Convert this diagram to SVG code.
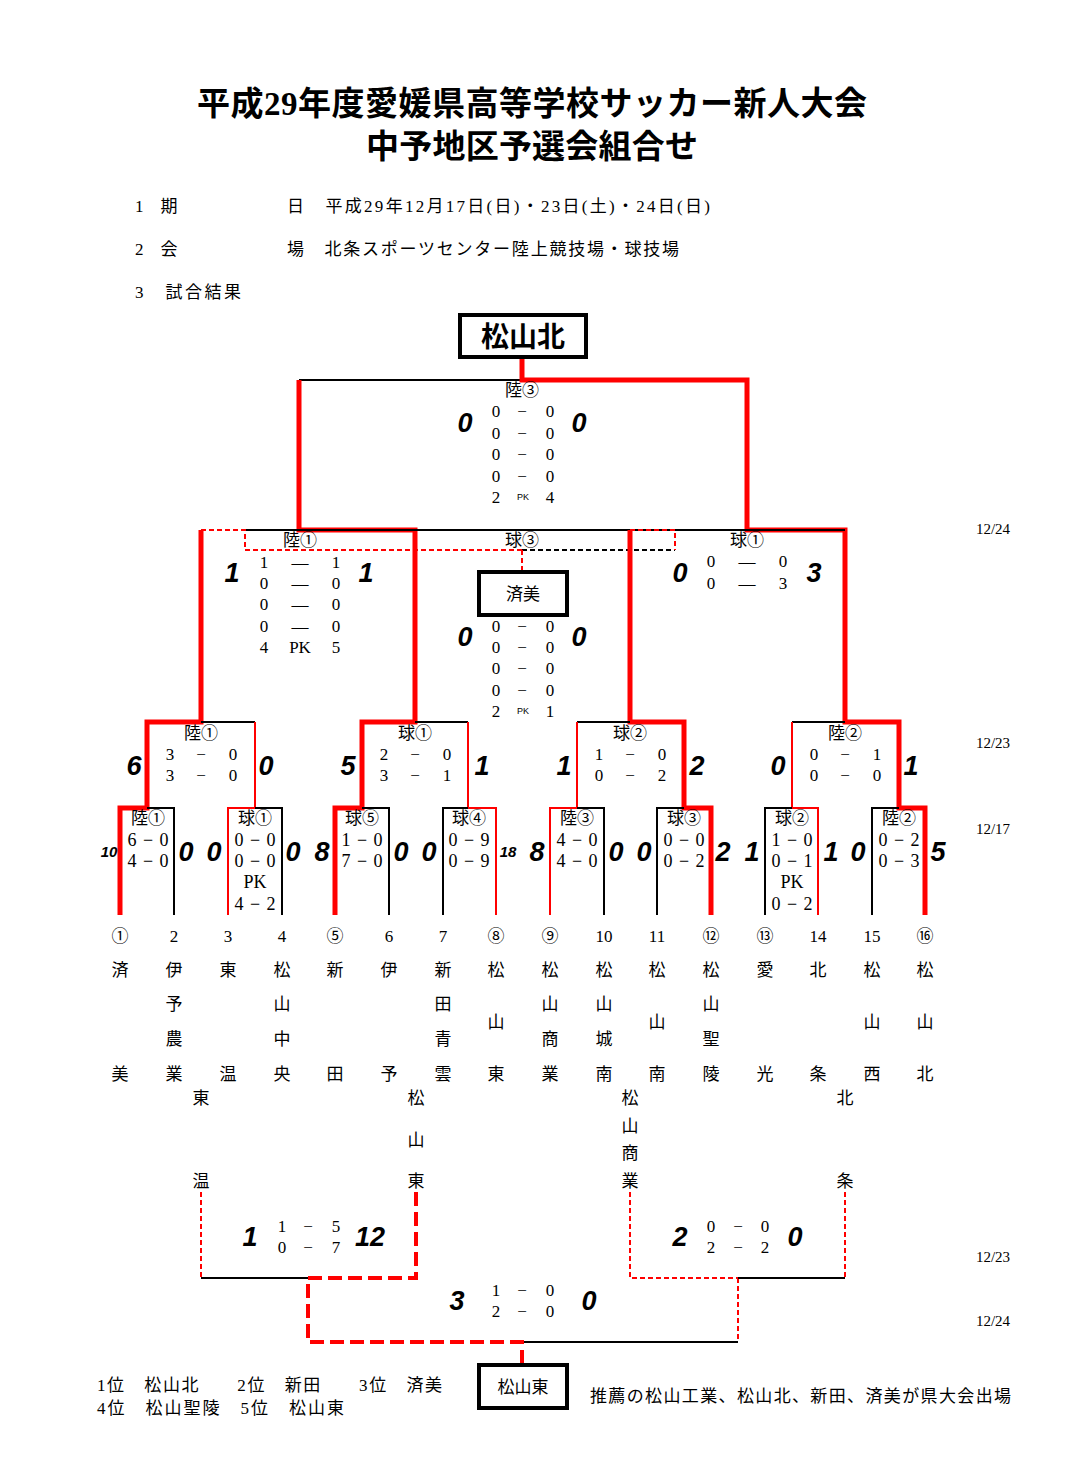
<svg xmlns="http://www.w3.org/2000/svg" width="1088" height="1481" viewBox="0 0 1088 1481">
<style>
text{font-family:"Liberation Serif","Noto Sans CJK JP",serif;fill:#000}
.t{font-size:17px;text-anchor:middle}
.s{font-size:17px}
.w{font-size:18px;text-anchor:middle;word-spacing:2px}
.b{font-family:"Liberation Sans","Noto Sans CJK JP",sans-serif;font-weight:bold;font-style:italic;font-size:27px;text-anchor:middle}
.sm{font-family:"Liberation Sans",sans-serif;font-weight:bold;font-style:italic;font-size:15px;text-anchor:middle}
.pk{font-size:9px;text-anchor:middle;font-family:"Liberation Sans",sans-serif;fill:#000}
.k{stroke:#000;stroke-width:2;fill:none}
.r{stroke:#f00;stroke-width:2;fill:none}
.R{stroke:#f00;stroke-width:5;fill:none}
.rd{stroke:#f00;stroke-width:2;fill:none;stroke-dasharray:5,3}
.RD{stroke:#f00;stroke-width:4;fill:none;stroke-dasharray:14,6}
.kd{stroke:#000;stroke-width:2;fill:none;stroke-dasharray:5,3}
.box{fill:#fff;stroke:#000;stroke-width:4}
.d{font-size:15px;font-family:"Liberation Serif",serif}
</style>
<rect width="1088" height="1481" fill="#fff"/>
<g id="title">
<text x="532" y="115" style="font-size:33px;font-weight:bold;text-anchor:middle" textLength="670">平成29年度愛媛県高等学校サッカー新人大会</text>
<text x="532" y="158" style="font-size:33px;font-weight:bold;text-anchor:middle" textLength="332">中予地区予選会組合せ</text>
<text x="135" y="212" class="s">1　期</text><text x="287" y="212" class="s" textLength="423">日　平成29年12月17日(日)・23日(土)・24日(日)</text>
<text x="135" y="255" class="s">2　会</text><text x="287" y="255" class="s" textLength="392">場　北条スポーツセンター陸上競技場・球技場</text>
<text x="135" y="298" class="s" textLength="106">3　試合結果</text>
</g>
<g id="connectors">
<path class="k" d="M299 380H747"/>
<path class="R" d="M522 357V380H747V530H845V722H899V808H925V915"/>
<path class="R" d="M299 380V530H415V722H362V808H335V915"/>
<path class="k" d="M245 530H845"/>
<path class="R" d="M201 530V722H147V808H120V915"/>
<path class="rd" d="M201 530H245V550H522"/>
<path class="kd" d="M522 550H675"/>
<path class="rd" d="M630 530H675V550M522 550V571"/>
<path class="R" d="M630 530V722H684V808H711V915"/>
<path class="k" d="M201 722H255M415 722H468M577 722H630M792 722H845"/>
<path class="r" d="M255 722V808H228V915M468 722V808H496V915M577 722V808H550V915M792 722V808H818V915"/>
<path class="k" d="M147 808H174V915M255 808H282V915M389 915V808H362M443 915V808H468M577 808H604V915M657 915V808H684M765 915V808H792M872 915V808H899"/>
<path class="rd" d="M201 1192V1278M630 1192V1278H738M845 1192V1278M738 1278V1342"/>
<path class="k" d="M201 1278H308M738 1278H845M522 1342H738"/>
<path class="RD" d="M416 1192V1278H308V1342H522V1363"/>
</g>
<g id="n-champ"><rect class="box" x="460" y="315" width="126" height="42"/><text x="523" y="347" style="font-size:28px;font-weight:bold;text-anchor:middle">松山北</text></g>
<g id="n-third"><rect class="box" x="479" y="572" width="88" height="43"/><text x="523" y="600" class="t">済美</text></g>
<g id="n-fifth"><rect class="box" x="479" y="1365" width="88" height="43"/><text x="523" y="1393" class="t">松山東</text></g>
<g id="final">
<text x="522" y="396" class="t">陸③</text>
<text x="465" y="432" class="b">0</text><text x="579" y="432" class="b">0</text>
<text x="496" y="417" class="t">0</text><text x="522" y="417" class="t">−</text><text x="550" y="417" class="t">0</text>
<text x="496" y="439" class="t">0</text><text x="522" y="439" class="t">−</text><text x="550" y="439" class="t">0</text>
<text x="496" y="460" class="t">0</text><text x="522" y="460" class="t">−</text><text x="550" y="460" class="t">0</text>
<text x="496" y="482" class="t">0</text><text x="522" y="482" class="t">−</text><text x="550" y="482" class="t">0</text>
<text x="496" y="503" class="t">2</text><text x="523" y="500" class="pk">PK</text><text x="550" y="503" class="t">4</text>
</g>
<g id="sf1">
<text x="300" y="546" class="t">陸①</text>
<text x="232" y="582" class="b">1</text><text x="366" y="582" class="b">1</text>
<text x="264" y="568" class="t">1</text><text x="300" y="568" class="t">—</text><text x="336" y="568" class="t">1</text>
<text x="264" y="589" class="t">0</text><text x="300" y="589" class="t">—</text><text x="336" y="589" class="t">0</text>
<text x="264" y="610" class="t">0</text><text x="300" y="610" class="t">—</text><text x="336" y="610" class="t">0</text>
<text x="264" y="632" class="t">0</text><text x="300" y="632" class="t">—</text><text x="336" y="632" class="t">0</text>
<text x="264" y="653" class="t">4</text><text x="300" y="653" class="t">PK</text><text x="336" y="653" class="t">5</text>
</g>
<g id="third">
<text x="522" y="546" class="t">球③</text>
<text x="465" y="646" class="b">0</text><text x="579" y="646" class="b">0</text>
<text x="496" y="632" class="t">0</text><text x="522" y="632" class="t">−</text><text x="550" y="632" class="t">0</text>
<text x="496" y="653" class="t">0</text><text x="522" y="653" class="t">−</text><text x="550" y="653" class="t">0</text>
<text x="496" y="674" class="t">0</text><text x="522" y="674" class="t">−</text><text x="550" y="674" class="t">0</text>
<text x="496" y="696" class="t">0</text><text x="522" y="696" class="t">−</text><text x="550" y="696" class="t">0</text>
<text x="496" y="717" class="t">2</text><text x="523" y="714" class="pk">PK</text><text x="550" y="717" class="t">1</text>
</g>
<g id="sf2">
<text x="747" y="546" class="t">球①</text>
<text x="680" y="582" class="b">0</text><text x="814" y="582" class="b">3</text>
<text x="711" y="567" class="t">0</text><text x="747" y="567" class="t">—</text><text x="783" y="567" class="t">0</text>
<text x="711" y="589" class="t">0</text><text x="747" y="589" class="t">—</text><text x="783" y="589" class="t">3</text>
</g>
<g id="qf1"><text x="201" y="739" class="t">陸①</text><text x="134" y="775" class="b">6</text><text x="266" y="775" class="b">0</text>
<text x="170" y="760" class="t">3</text><text x="201" y="760" class="t">−</text><text x="233" y="760" class="t">0</text>
<text x="170" y="781" class="t">3</text><text x="201" y="781" class="t">−</text><text x="233" y="781" class="t">0</text></g>
<g id="qf2"><text x="415" y="739" class="t">球①</text><text x="348" y="775" class="b">5</text><text x="482" y="775" class="b">1</text>
<text x="384" y="760" class="t">2</text><text x="415" y="760" class="t">−</text><text x="447" y="760" class="t">0</text>
<text x="384" y="781" class="t">3</text><text x="415" y="781" class="t">−</text><text x="447" y="781" class="t">1</text></g>
<g id="qf3"><text x="630" y="739" class="t">球②</text><text x="564" y="775" class="b">1</text><text x="697" y="775" class="b">2</text>
<text x="599" y="760" class="t">1</text><text x="630" y="760" class="t">−</text><text x="662" y="760" class="t">0</text>
<text x="599" y="781" class="t">0</text><text x="630" y="781" class="t">−</text><text x="662" y="781" class="t">2</text></g>
<g id="qf4"><text x="845" y="739" class="t">陸②</text><text x="778" y="775" class="b">0</text><text x="911" y="775" class="b">1</text>
<text x="814" y="760" class="t">0</text><text x="845" y="760" class="t">−</text><text x="877" y="760" class="t">1</text>
<text x="814" y="781" class="t">0</text><text x="845" y="781" class="t">−</text><text x="877" y="781" class="t">0</text></g>
<g id="r1-1"><text x="148" y="824" class="t">陸①</text><text x="148" y="846" class="w">6 − 0</text><text x="148" y="867" class="w">4 − 0</text><text x="109" y="857" class="sm">10</text><text x="186" y="861" class="b">0</text></g>
<g id="r1-2"><text x="255" y="824" class="t">球①</text><text x="255" y="846" class="w">0 − 0</text><text x="255" y="867" class="w">0 − 0</text><text x="255" y="888" class="w">PK</text><text x="255" y="910" class="w">4 − 2</text><text x="214" y="861" class="b">0</text><text x="293" y="861" class="b">0</text></g>
<g id="r1-3"><text x="362" y="824" class="t">球⑤</text><text x="362" y="846" class="w">1 − 0</text><text x="362" y="867" class="w">7 − 0</text><text x="322" y="861" class="b">8</text><text x="401" y="861" class="b">0</text></g>
<g id="r1-4"><text x="469" y="824" class="t">球④</text><text x="469" y="846" class="w">0 − 9</text><text x="469" y="867" class="w">0 − 9</text><text x="429" y="861" class="b">0</text><text x="508" y="857" class="sm">18</text></g>
<g id="r1-5"><text x="577" y="824" class="t">陸③</text><text x="577" y="846" class="w">4 − 0</text><text x="577" y="867" class="w">4 − 0</text><text x="537" y="861" class="b">8</text><text x="616" y="861" class="b">0</text></g>
<g id="r1-6"><text x="684" y="824" class="t">球③</text><text x="684" y="846" class="w">0 − 0</text><text x="684" y="867" class="w">0 − 2</text><text x="644" y="861" class="b">0</text><text x="723" y="861" class="b">2</text></g>
<g id="r1-7"><text x="792" y="824" class="t">球②</text><text x="792" y="846" class="w">1 − 0</text><text x="792" y="867" class="w">0 − 1</text><text x="792" y="888" class="w">PK</text><text x="792" y="910" class="w">0 − 2</text><text x="752" y="861" class="b">1</text><text x="831" y="861" class="b">1</text></g>
<g id="r1-8"><text x="899" y="824" class="t">陸②</text><text x="899" y="846" class="w">0 − 2</text><text x="899" y="867" class="w">0 − 3</text><text x="858" y="861" class="b">0</text><text x="938" y="861" class="b">5</text></g>
<g id="teams">
<text x="120" y="942" class="t">①</text><text x="174" y="942" class="t">2</text><text x="228" y="942" class="t">3</text><text x="282" y="942" class="t">4</text><text x="335" y="942" class="t">⑤</text><text x="389" y="942" class="t">6</text><text x="443" y="942" class="t">7</text><text x="496" y="942" class="t">⑧</text><text x="550" y="942" class="t">⑨</text><text x="604" y="942" class="t">10</text><text x="657" y="942" class="t">11</text><text x="711" y="942" class="t">⑫</text><text x="765" y="942" class="t">⑬</text><text x="818" y="942" class="t">14</text><text x="872" y="942" class="t">15</text><text x="925" y="942" class="t">⑯</text>
<text x="120" y="976" class="t">済</text><text x="120" y="1080" class="t">美</text>
<text x="174" y="976" class="t">伊</text><text x="174" y="1010" class="t">予</text><text x="174" y="1045" class="t">農</text><text x="174" y="1080" class="t">業</text>
<text x="228" y="976" class="t">東</text><text x="228" y="1080" class="t">温</text>
<text x="282" y="976" class="t">松</text><text x="282" y="1010" class="t">山</text><text x="282" y="1045" class="t">中</text><text x="282" y="1080" class="t">央</text>
<text x="335" y="976" class="t">新</text><text x="335" y="1080" class="t">田</text>
<text x="389" y="976" class="t">伊</text><text x="389" y="1080" class="t">予</text>
<text x="443" y="976" class="t">新</text><text x="443" y="1010" class="t">田</text><text x="443" y="1045" class="t">青</text><text x="443" y="1080" class="t">雲</text>
<text x="496" y="976" class="t">松</text><text x="496" y="1028" class="t">山</text><text x="496" y="1080" class="t">東</text>
<text x="550" y="976" class="t">松</text><text x="550" y="1010" class="t">山</text><text x="550" y="1045" class="t">商</text><text x="550" y="1080" class="t">業</text>
<text x="604" y="976" class="t">松</text><text x="604" y="1010" class="t">山</text><text x="604" y="1045" class="t">城</text><text x="604" y="1080" class="t">南</text>
<text x="657" y="976" class="t">松</text><text x="657" y="1028" class="t">山</text><text x="657" y="1080" class="t">南</text>
<text x="711" y="976" class="t">松</text><text x="711" y="1010" class="t">山</text><text x="711" y="1045" class="t">聖</text><text x="711" y="1080" class="t">陵</text>
<text x="765" y="976" class="t">愛</text><text x="765" y="1080" class="t">光</text>
<text x="818" y="976" class="t">北</text><text x="818" y="1080" class="t">条</text>
<text x="872" y="976" class="t">松</text><text x="872" y="1028" class="t">山</text><text x="872" y="1080" class="t">西</text>
<text x="925" y="976" class="t">松</text><text x="925" y="1028" class="t">山</text><text x="925" y="1080" class="t">北</text>
<text x="201" y="1104" class="t">東</text><text x="201" y="1187" class="t">温</text>
<text x="416" y="1104" class="t">松</text><text x="416" y="1146" class="t">山</text><text x="416" y="1187" class="t">東</text>
<text x="630" y="1104" class="t">松</text><text x="630" y="1132" class="t">山</text><text x="630" y="1159" class="t">商</text><text x="630" y="1187" class="t">業</text>
<text x="845" y="1104" class="t">北</text><text x="845" y="1187" class="t">条</text>
</g>
<g id="l1"><text x="250" y="1246" class="b">1</text><text x="370" y="1246" class="b">12</text>
<text x="282" y="1232" class="t">1</text><text x="308" y="1232" class="t">−</text><text x="336" y="1232" class="t">5</text>
<text x="282" y="1253" class="t">0</text><text x="308" y="1253" class="t">−</text><text x="336" y="1253" class="t">7</text></g>
<g id="l2"><text x="680" y="1246" class="b">2</text><text x="795" y="1246" class="b">0</text>
<text x="711" y="1232" class="t">0</text><text x="738" y="1232" class="t">−</text><text x="765" y="1232" class="t">0</text>
<text x="711" y="1253" class="t">2</text><text x="738" y="1253" class="t">−</text><text x="765" y="1253" class="t">2</text></g>
<g id="l3"><text x="457" y="1310" class="b">3</text><text x="589" y="1310" class="b">0</text>
<text x="496" y="1296" class="t">1</text><text x="522" y="1296" class="t">−</text><text x="550" y="1296" class="t">0</text>
<text x="496" y="1317" class="t">2</text><text x="522" y="1317" class="t">−</text><text x="550" y="1317" class="t">0</text></g>
<g id="dates">
<text x="993" y="534" class="d" text-anchor="middle">12/24</text>
<text x="993" y="748" class="d" text-anchor="middle">12/23</text>
<text x="993" y="834" class="d" text-anchor="middle">12/17</text>
<text x="993" y="1262" class="d" text-anchor="middle">12/23</text>
<text x="993" y="1326" class="d" text-anchor="middle">12/24</text>
</g>
<g id="footer">
<text x="97" y="1391" class="s" textLength="345">1位　松山北　　2位　新田　　3位　済美</text>
<text x="97" y="1414" class="s" textLength="247">4位　松山聖陵　5位　松山東</text>
<text x="590" y="1402" class="s" textLength="421">推薦の松山工業、松山北、新田、済美が県大会出場</text>
</g>
</svg>
